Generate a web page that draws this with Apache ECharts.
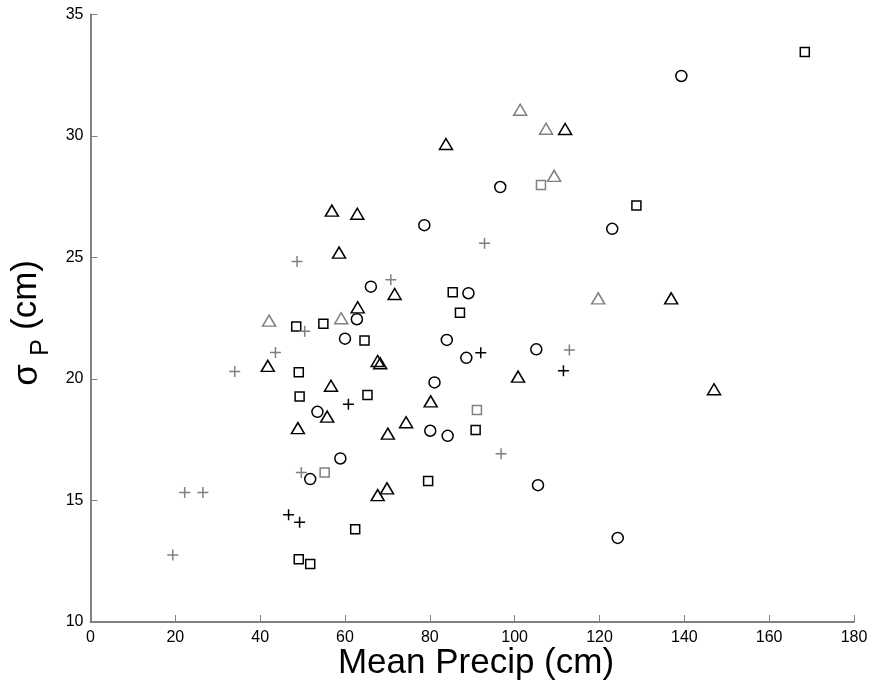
<!DOCTYPE html>
<html>
<head>
<meta charset="utf-8">
<script src="https://cdn.jsdelivr.net/npm/echarts@6/dist/echarts.min.js"></script>
<style>
  html, body { margin: 0; padding: 0; background: #fff; }
  #chart { width: 878px; height: 682px; }
</style>
</head>
<body>
<div id="chart"></div>
<script>
// Mean precipitation (cm) vs. standard deviation of precipitation (cm), by station group
const xTicks = [0, 20, 40, 60, 80, 100, 120, 140, 160, 180];
const yTicks = [10, 15, 20, 25, 30, 35];

const circlesBlack = [
  [139.3, 32.47], [96.6, 27.9], [78.7, 26.33], [123.0, 26.18], [66.1, 23.8],
  [89.1, 23.53], [62.8, 22.46], [60.0, 21.66], [84.0, 21.61], [105.1, 21.22],
  [88.6, 20.87], [81.1, 19.86], [53.5, 18.65], [80.1, 17.87], [84.2, 17.66],
  [58.9, 16.73], [51.8, 15.88], [105.5, 15.63], [124.3, 13.46]
];
const trianglesBlack = [
  [83.8, 29.67], [111.9, 30.29], [56.9, 26.93], [62.9, 26.8], [58.6, 25.2],
  [71.7, 23.5], [63.0, 22.95], [41.8, 20.54], [67.7, 20.74], [68.3, 20.65],
  [56.7, 19.72], [100.8, 20.1], [136.9, 23.32], [147.0, 19.58], [80.2, 19.08],
  [48.9, 17.98], [55.8, 18.45], [74.4, 18.22], [70.1, 17.75], [67.7, 15.22],
  [69.9, 15.5]
];
const trianglesGray = [
  [101.3, 31.08], [107.4, 30.3], [109.3, 28.36], [42.1, 22.4], [59.1, 22.5],
  [119.7, 23.32]
];
const squaresBlack = [
  [168.4, 33.46], [128.7, 27.14], [85.4, 23.57], [87.1, 22.73], [48.5, 22.16],
  [54.9, 22.27], [64.6, 21.58], [49.1, 20.28], [49.3, 19.28], [65.3, 19.34],
  [90.8, 17.9], [79.6, 15.8], [62.4, 13.82], [49.1, 12.58], [51.8, 12.39]
];
const squaresGray = [
  [106.2, 27.98], [91.1, 18.72], [55.2, 16.15]
];
const plusBlack = [
  [92.0, 21.08], [111.5, 20.34], [60.8, 18.96], [46.7, 14.41], [49.3, 14.1]
];
const plusGray = [
  [48.7, 24.84], [50.5, 21.96], [43.6, 21.09], [34.0, 20.31], [70.8, 24.08],
  [92.9, 25.59], [112.9, 21.19], [96.8, 16.92], [49.7, 16.15], [22.2, 15.33],
  [26.5, 15.33], [19.4, 12.76]
];

const BLACK = '#000000';
const GRAY = '#808080';
const FONT = 'Liberation Sans, Arial, Helvetica, sans-serif';
const PLUS = 'path://M0,5L10,5M5,0L5,10';

function markerSeries(name, data, symbol, size, color, width) {
  return {
    name: name,
    type: 'scatter',
    data: data,
    symbol: symbol,
    symbolSize: size,
    silent: true,
    itemStyle: {
      color: 'rgba(0,0,0,0)',
      borderColor: color,
      borderWidth: width,
      opacity: 1
    }
  };
}

const chart = echarts.init(document.getElementById('chart'), null, { renderer: 'canvas' });

const axisCommon = {
  axisLine: { show: true, lineStyle: { color: '#808080', width: 2 } },
  axisTick: { show: true, inside: true, length: 7, lineStyle: { color: '#808080', width: 1 } },
  splitLine: { show: false },
  axisLabel: { color: '#000', fontSize: 16, fontFamily: FONT }
};

// rotated y-axis title pieces: sigma, subscript P, unit
function vText(text, size, x, y) {
  return {
    type: 'text',
    x: x,
    y: y,
    rotation: Math.PI / 2,
    style: {
      text: text,
      fontSize: size,
      fontFamily: FONT,
      fill: '#000',
      align: 'center',
      verticalAlign: 'middle'
    }
  };
}

chart.setOption({
  animation: false,
  backgroundColor: '#fff',
  grid: { left: 90.5, right: 24, top: 14.5, bottom: 60, containLabel: false },
  xAxis: Object.assign({}, axisCommon, {
    type: 'value',
    min: xTicks[0],
    max: xTicks[xTicks.length - 1],
    interval: 20,
    axisLabel: Object.assign({}, axisCommon.axisLabel, { margin: 8 })
  }),
  yAxis: Object.assign({}, axisCommon, {
    type: 'value',
    min: yTicks[0],
    max: yTicks[yTicks.length - 1],
    interval: 5,
    axisLabel: Object.assign({}, axisCommon.axisLabel, { margin: 7 })
  }),
  graphic: [
    {
      type: 'text',
      x: 476,
      y: 663,
      style: {
        text: 'Mean Precip (cm)',
        fontSize: 35,
        fontFamily: FONT,
        fill: '#000',
        align: 'center',
        verticalAlign: 'middle'
      }
    },
    vText('σ', 35, 27, 375),
    vText('P', 25, 41, 347.5),
    vText('(cm)', 35, 26, 295)
  ],
  series: [
    markerSeries('circles', circlesBlack, 'circle', 11, BLACK, 1.5),
    markerSeries('triangles', trianglesBlack, 'triangle', [13, 11], BLACK, 1.5),
    markerSeries('triangles-gray', trianglesGray, 'triangle', [13, 11], GRAY, 1.5),
    markerSeries('squares', squaresBlack, 'rect', 9, BLACK, 1.5),
    markerSeries('squares-gray', squaresGray, 'rect', 9, GRAY, 1.5),
    markerSeries('plus', plusBlack, PLUS, 11, BLACK, 1.5),
    markerSeries('plus-gray', plusGray, PLUS, 11, GRAY, 1.5)
  ]
});
</script>
</body>
</html>
